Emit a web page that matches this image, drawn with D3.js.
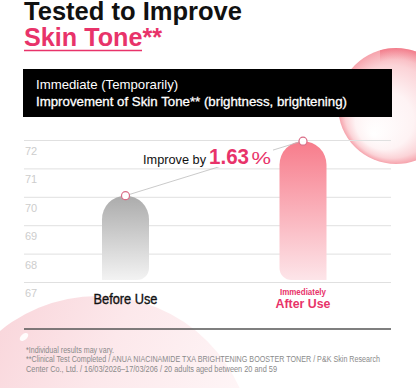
<!DOCTYPE html>
<html><head><meta charset="utf-8">
<script src="https://cdn.jsdelivr.net/npm/d3@7"></script>
<style>
html,body{margin:0;padding:0;background:#fff;}
svg{display:block;font-family:"Liberation Sans",Arial,Helvetica,sans-serif;}
</style></head>
<body>
<svg id="c" width="416" height="388"></svg>
<script>
// ---- data ----
const categories = ["Before Use", "After Use"];
const values = [70.04, 71.96];
const tickValues = [67, 68, 69, 70, 71, 72];
const improvement = "1.63";
const titleLines = ["Tested to Improve", "Skin Tone**"];
const boxLines = ["Immediate (Temporarily)", "Improvement of Skin Tone** (brightness, brightening)"];
const footnotes = [
  "*Individual results may vary.",
  "**Clinical Test Completed / ANUA NIACINAMIDE TXA BRIGHTENING BOOSTER TONER / P&K Skin Research",
  "Center Co., Ltd. / 16/03/2026\u201317/03/206 / 20 adults aged between 20 and 59"
];

const PINK = "#e8336a";
const svg = d3.select("#c");
const defs = svg.append("defs");

function fit(t, w){ t.attr("textLength", w).attr("lengthAdjust", "spacingAndGlyphs"); return t; }

// ---- decorations ----
const rg = defs.append("radialGradient").attr("id","bub").attr("cx","0.5").attr("cy","0.5").attr("r","0.5").attr("fx","0.3").attr("fy","0.75");
rg.append("stop").attr("offset","0%").attr("stop-color","#ffffff");
rg.append("stop").attr("offset","50%").attr("stop-color","#fef3f4");
rg.append("stop").attr("offset","80%").attr("stop-color","#fbd3d7");
rg.append("stop").attr("offset","100%").attr("stop-color","#f6a3ac");
svg.append("circle").attr("cx",396).attr("cy",106).attr("r",58).attr("fill","url(#bub)");
const rim = defs.append("radialGradient").attr("id","rim").attr("cx","0.5").attr("cy","0.5").attr("r","0.5");
rim.append("stop").attr("offset","80%").attr("stop-color","#f27b89").attr("stop-opacity",0);
rim.append("stop").attr("offset","100%").attr("stop-color","#ef5d70").attr("stop-opacity",0.55);
defs.append("clipPath").attr("id","rimclip").append("rect").attr("x",380).attr("y",40).attr("width",40).attr("height",55);
svg.append("circle").attr("cx",396).attr("cy",106).attr("r",58).attr("fill","url(#rim)")
  .attr("clip-path","url(#rimclip)");

const lg = defs.append("linearGradient").attr("id","blob").attr("x1","0").attr("y1","0").attr("x2","1").attr("y2","0.5");
lg.append("stop").attr("offset","0%").attr("stop-color","#f8cdd3");
lg.append("stop").attr("offset","50%").attr("stop-color","#fce8eb");
lg.append("stop").attr("offset","100%").attr("stop-color","#fff9fa");
svg.append("circle").attr("cx",98).attr("cy",451).attr("r",155).attr("fill","url(#blob)");
svg.append("ellipse").attr("cx",24).attr("cy",337).attr("rx",5).attr("ry",3)
  .attr("transform","rotate(-40,24,337)").attr("fill","#ffffff").attr("opacity",0.9);

// ---- title ----
fit(svg.append("text").attr("x",24).attr("y",20).attr("font-size",25).attr("font-weight","bold")
  .attr("fill","#111").text(titleLines[0]), 218);
fit(svg.append("text").attr("x",24).attr("y",46).attr("font-size",25).attr("font-weight","bold")
  .attr("fill",PINK).text(titleLines[1]), 138);
svg.append("line").attr("x1",24).attr("x2",142).attr("y1",50.5).attr("y2",50.5).attr("stroke",PINK).attr("stroke-width",1.6);

// ---- black box ----
svg.append("rect").attr("x",23).attr("y",69).attr("width",369).attr("height",48).attr("fill","#000");
svg.append("text").attr("x",36).attr("y",89).attr("font-size",13.2).attr("fill","#fff").text(boxLines[0]);
fit(svg.append("text").attr("x",36).attr("y",105.5).attr("font-size",13.2).attr("fill","#fff")
  .attr("stroke","#fff").attr("stroke-width",0.3).text(boxLines[1]), 311);

// ---- scales ----
const y = d3.scaleLinear().domain([67,72]).range([282,140]);
const x = d3.scalePoint().domain(categories).range([125.5,303]);
const bw = 47;

// ---- grid / axis ----
const ax = svg.append("g").attr("transform","translate(24,0)")
  .call(d3.axisLeft(y).tickValues(tickValues).tickSize(-367).tickFormat(d3.format("d")));
ax.select(".domain").remove();
ax.selectAll(".tick line").attr("stroke","#e0e0e0").attr("stroke-width",1);
ax.selectAll(".tick text").attr("x",1).attr("dy",14.5).attr("text-anchor","start")
  .attr("fill","#cdcdcd").attr("font-size",11).attr("font-family","Liberation Sans, Arial, sans-serif");

// ---- gradients for bars ----
const g1 = defs.append("linearGradient").attr("id","gBefore").attr("x1",0).attr("y1",0).attr("x2",0).attr("y2",1);
g1.append("stop").attr("offset","0%").attr("stop-color","#ababab");
g1.append("stop").attr("offset","100%").attr("stop-color","#f3f3f3");
const g2 = defs.append("linearGradient").attr("id","gAfter").attr("x1",0).attr("y1",0).attr("x2",0).attr("y2",1);
g2.append("stop").attr("offset","0%").attr("stop-color","#f77c8b");
g2.append("stop").attr("offset","100%").attr("stop-color","#fde5e9");

function barPath(cx, top, bottom, w, brRight){
  const r = w/2, rb = 12, L = cx - r, R = cx + r;
  const p = d3.path();
  p.moveTo(L, top + r);
  p.arc(cx, top + r, r, Math.PI, 0, false);
  if (brRight){
    p.lineTo(R, bottom - rb);
    p.arcTo(R, bottom, R - rb, bottom, rb);
    p.lineTo(L, bottom);
  } else {
    p.lineTo(R, bottom);
    p.lineTo(L + rb, bottom);
    p.arcTo(L, bottom, L, bottom - rb, rb);
  }
  p.closePath();
  return p.toString();
}

const bottom = y(67) - 2;
svg.selectAll(".bar").data(categories).enter().append("path")
  .attr("class","bar")
  .attr("d",(d,i)=>barPath(x(d), y(values[i]), bottom, bw, i===0))
  .attr("fill",(d,i)=> i===0 ? "url(#gBefore)" : "url(#gAfter)");

// connector line
svg.append("line")
  .attr("x1",x(categories[0])).attr("y1",y(values[0]))
  .attr("x2",x(categories[1])-1).attr("y2",y(values[1]))
  .attr("stroke","#bdbdbd").attr("stroke-width",0.8);

// annotation
svg.append("rect").attr("x",209).attr("y",145).attr("width",64).attr("height",22).attr("fill","#fff");
fit(svg.append("text").attr("x",143).attr("y",164).attr("font-size",13.5).attr("fill","#111").text("Improve by"), 63);
fit(svg.append("text").attr("x",209).attr("y",164).attr("font-size",22.5).attr("font-weight","bold").attr("fill",PINK).text(improvement), 40);
fit(svg.append("text").attr("x",251.5).attr("y",164).attr("font-size",16).attr("fill",PINK).text("%"), 19.5);

// markers
svg.selectAll(".dot").data(categories).enter().append("circle")
  .attr("cx",d=>x(d)).attr("cy",(d,i)=>y(values[i])).attr("r",4)
  .attr("fill","#fff").attr("stroke","#d96c86").attr("stroke-width",1.2);

// category labels
fit(svg.append("text").attr("x",x(categories[0])).attr("y",304).attr("text-anchor","middle")
  .attr("font-size",14).attr("fill","#111").attr("stroke","#111").attr("stroke-width",0.35).text(categories[0]), 64);
fit(svg.append("text").attr("x",x(categories[1])).attr("y",295).attr("text-anchor","middle")
  .attr("font-size",8.5).attr("font-weight","bold").attr("fill",PINK).text("Immediately"), 46);
fit(svg.append("text").attr("x",x(categories[1])).attr("y",308).attr("text-anchor","middle")
  .attr("font-size",13.5).attr("font-weight","bold").attr("fill",PINK).text(categories[1]), 55);

// bottom rule
svg.append("line").attr("x1",24).attr("x2",391).attr("y1",329).attr("y2",329).attr("stroke","#555").attr("stroke-width",1.5);

// footnotes
const fnW = [88, 354, 251];
footnotes.forEach((t,i)=>{
  fit(svg.append("text").attr("x",26).attr("y",352.5 + i*9.5).attr("font-size",8.5).attr("fill","#8a8a8a").text(t), fnW[i]);
});
</script>
</body></html>
